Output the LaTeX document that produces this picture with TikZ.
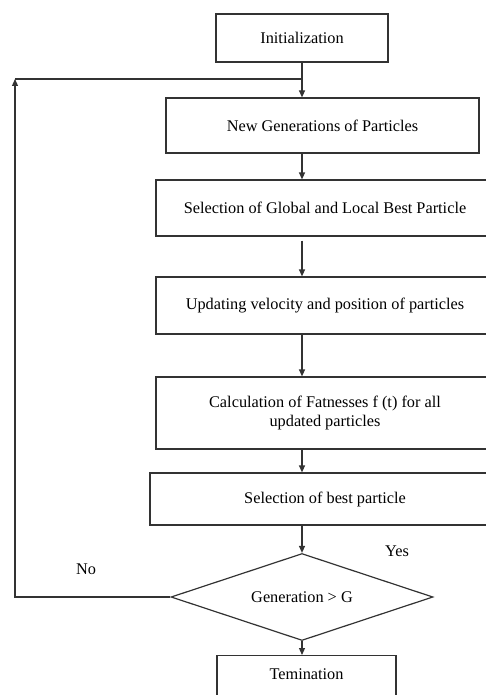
\documentclass[tikz,border=0pt]{standalone}
\usepackage{fontspec}
\setmainfont{Liberation Serif}
\usetikzlibrary{shapes.geometric,arrows.meta}
\tikzset{
  stepbox/.style={draw=black!80, line width=1.2pt, inner sep=0pt, align=center},
  decision/.style={draw=black!80, line width=1.2pt, diamond, shape aspect=3, inner sep=0pt},
  arr/.style={draw=black!80, line width=1.2pt, -{Triangle[length=7pt,width=6pt]}},
  line/.style={draw=black!80, line width=1.2pt},
}
\begin{document}
\begin{tikzpicture}[x=1pt,y=-1pt,every node/.style={font=\fontsize{16.3}{19}\selectfont}]
 \useasboundingbox (0,0) rectangle (486,695);
 \node[stepbox, minimum width=172, minimum height=48] (init) at (302,38) {Initialization};
 \node[stepbox, minimum width=313, minimum height=55] (newgen) at (322.5,125.5) {New Generations of Particles};
 \node[stepbox, minimum width=338, minimum height=56] (selglob) at (325,208) {Selection of Global and Local Best Particle};
 \node[stepbox, minimum width=338, minimum height=57] (update) at (325,305.5) {Updating velocity and position of  particles};
 \node[stepbox, minimum width=338, minimum height=72] (calc) at (325,413) {Calculation of Fatnesses f (t) for all\\updated particles};
 \node[stepbox, minimum width=350, minimum height=52] (selbest) at (325,499) {Selection of best particle};
 \node[decision, minimum width=262, minimum height=87] (dec) at (302,597) {Generation > G};
 \node[stepbox, minimum width=179, anchor=north, text height=24pt, text depth=30pt] (term) at (306.5,655) {Temination};
 \node (yes) at (397,551) {Yes};
 \node (no) at (86,569) {No};
 \coordinate (loop) at (15,79);
 % main spine
 \draw[arr] (init.south) -- (init.south |- newgen.north);
 \draw[arr] (init.south |- newgen.south) -- (init.south |- selglob.north);
 \draw[arr] ([yshift=-4]init.south |- selglob.south) -- (init.south |- update.north);
 \draw[arr] (init.south |- update.south) -- (init.south |- calc.north);
 \draw[arr] (init.south |- calc.south) -- (init.south |- selbest.north);
 \draw[arr] (init.south |- selbest.south) -- (dec.north);
 \draw[arr] (dec.south) -- (dec.south |- term.north);
 % back to new generation
 \draw[arr] (dec.west) -| (loop);
 \draw[line] (loop) -- (init.south |- loop);
\end{tikzpicture}
\end{document}
